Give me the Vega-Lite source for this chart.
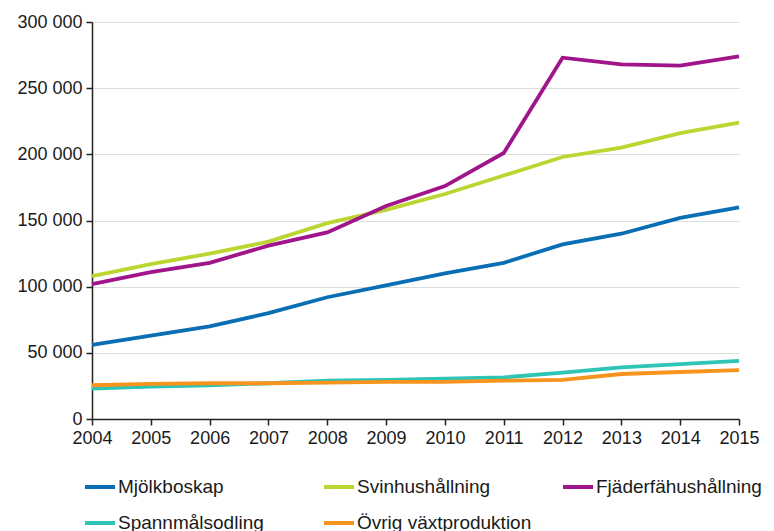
{
  "$schema": "https://vega.github.io/schema/vega-lite/v6.json",
  "width": 647,
  "height": 397,
  "autosize": {"type": "none"},
  "padding": {"left": 92, "top": 22, "right": 35, "bottom": 112},
  "config": {
    "locale": {"number": {"decimal": ",", "thousands": " ", "grouping": [3], "currency": ["", ""]}},
    "view": {"stroke": null},
    "font": "Liberation Sans",
    "axis": {"labelFont": "Liberation Sans", "labelFontSize": 18, "labelColor": "#1a1a1a", "domainColor": "#222222", "tickColor": "#222222", "domainWidth": 1.5, "tickWidth": 1.5, "tickSize": 6}
  },
  "data": {
    "values": [
      {"year": 2004, "series": "Mjölkboskap", "value": 56000},
      {"year": 2005, "series": "Mjölkboskap", "value": 63000},
      {"year": 2006, "series": "Mjölkboskap", "value": 70000},
      {"year": 2007, "series": "Mjölkboskap", "value": 80000},
      {"year": 2008, "series": "Mjölkboskap", "value": 92000},
      {"year": 2009, "series": "Mjölkboskap", "value": 101000},
      {"year": 2010, "series": "Mjölkboskap", "value": 110000},
      {"year": 2011, "series": "Mjölkboskap", "value": 118000},
      {"year": 2012, "series": "Mjölkboskap", "value": 132000},
      {"year": 2013, "series": "Mjölkboskap", "value": 140000},
      {"year": 2014, "series": "Mjölkboskap", "value": 152000},
      {"year": 2015, "series": "Mjölkboskap", "value": 160000},
      {"year": 2004, "series": "Svinhushållning", "value": 108000},
      {"year": 2005, "series": "Svinhushållning", "value": 117000},
      {"year": 2006, "series": "Svinhushållning", "value": 125000},
      {"year": 2007, "series": "Svinhushållning", "value": 134000},
      {"year": 2008, "series": "Svinhushållning", "value": 148000},
      {"year": 2009, "series": "Svinhushållning", "value": 158000},
      {"year": 2010, "series": "Svinhushållning", "value": 170000},
      {"year": 2011, "series": "Svinhushållning", "value": 184000},
      {"year": 2012, "series": "Svinhushållning", "value": 198000},
      {"year": 2013, "series": "Svinhushållning", "value": 205000},
      {"year": 2014, "series": "Svinhushållning", "value": 216000},
      {"year": 2015, "series": "Svinhushållning", "value": 224000},
      {"year": 2004, "series": "Fjäderfähushållning", "value": 102000},
      {"year": 2005, "series": "Fjäderfähushållning", "value": 111000},
      {"year": 2006, "series": "Fjäderfähushållning", "value": 118000},
      {"year": 2007, "series": "Fjäderfähushållning", "value": 131000},
      {"year": 2008, "series": "Fjäderfähushållning", "value": 141000},
      {"year": 2009, "series": "Fjäderfähushållning", "value": 161000},
      {"year": 2010, "series": "Fjäderfähushållning", "value": 176000},
      {"year": 2011, "series": "Fjäderfähushållning", "value": 201000},
      {"year": 2012, "series": "Fjäderfähushållning", "value": 273000},
      {"year": 2013, "series": "Fjäderfähushållning", "value": 268000},
      {"year": 2014, "series": "Fjäderfähushållning", "value": 267000},
      {"year": 2015, "series": "Fjäderfähushållning", "value": 274000},
      {"year": 2004, "series": "Spannmålsodling", "value": 23000},
      {"year": 2005, "series": "Spannmålsodling", "value": 24500},
      {"year": 2006, "series": "Spannmålsodling", "value": 25500},
      {"year": 2007, "series": "Spannmålsodling", "value": 27000},
      {"year": 2008, "series": "Spannmålsodling", "value": 29000},
      {"year": 2009, "series": "Spannmålsodling", "value": 29500},
      {"year": 2010, "series": "Spannmålsodling", "value": 30500},
      {"year": 2011, "series": "Spannmålsodling", "value": 31500},
      {"year": 2012, "series": "Spannmålsodling", "value": 35000},
      {"year": 2013, "series": "Spannmålsodling", "value": 39000},
      {"year": 2014, "series": "Spannmålsodling", "value": 41500},
      {"year": 2015, "series": "Spannmålsodling", "value": 44000},
      {"year": 2004, "series": "Övrig växtproduktion", "value": 25500},
      {"year": 2005, "series": "Övrig växtproduktion", "value": 26500},
      {"year": 2006, "series": "Övrig växtproduktion", "value": 27000},
      {"year": 2007, "series": "Övrig växtproduktion", "value": 27000},
      {"year": 2008, "series": "Övrig växtproduktion", "value": 27500},
      {"year": 2009, "series": "Övrig växtproduktion", "value": 28000},
      {"year": 2010, "series": "Övrig växtproduktion", "value": 28000},
      {"year": 2011, "series": "Övrig växtproduktion", "value": 29000},
      {"year": 2012, "series": "Övrig växtproduktion", "value": 29500},
      {"year": 2013, "series": "Övrig växtproduktion", "value": 34000},
      {"year": 2014, "series": "Övrig växtproduktion", "value": 35500},
      {"year": 2015, "series": "Övrig växtproduktion", "value": 37000}
    ]
  },
  "mark": {"type": "line", "strokeWidth": 3.8},
  "encoding": {
    "x": {
      "field": "year", "type": "quantitative",
      "scale": {"domain": [2004, 2015], "nice": false, "zero": false},
      "axis": {"values": [2004,2005,2006,2007,2008,2009,2010,2011,2012,2013,2014,2015], "format": "d", "grid": false, "title": null, "labelPadding": 4, "labelFlush": false}
    },
    "y": {
      "field": "value", "type": "quantitative",
      "scale": {"domain": [0, 300000], "nice": false},
      "axis": {"values": [0,50000,100000,150000,200000,250000,300000], "format": ",d", "title": null, "grid": true, "gridColor": "#dcdcdc", "gridWidth": 1, "labelPadding": 4}
    },
    "color": {
      "field": "series", "type": "nominal",
      "sort": ["Mjölkboskap", "Svinhushållning", "Fjäderfähushållning", "Spannmålsodling", "Övrig växtproduktion"],
      "scale": {
        "domain": ["Mjölkboskap", "Svinhushållning", "Fjäderfähushållning", "Spannmålsodling", "Övrig växtproduktion"],
        "range": ["#0a6eb4", "#bcd631", "#a0168a", "#2ec4b6", "#f7941d"]
      },
      "legend": {
        "title": null, "orient": "none", "legendX": -9, "legendY": 448,
        "direction": "horizontal", "columns": 3, "gridAlign": "all",
        "columnPadding": 23, "rowPadding": 9,
        "symbolType": "stroke", "symbolSize": 900, "symbolStrokeWidth": 4,
        "labelFontSize": 19, "labelFont": "Liberation Sans", "labelColor": "#1a1a1a", "labelOffset": 1, "labelLimit": 300
      }
    }
  }
}
